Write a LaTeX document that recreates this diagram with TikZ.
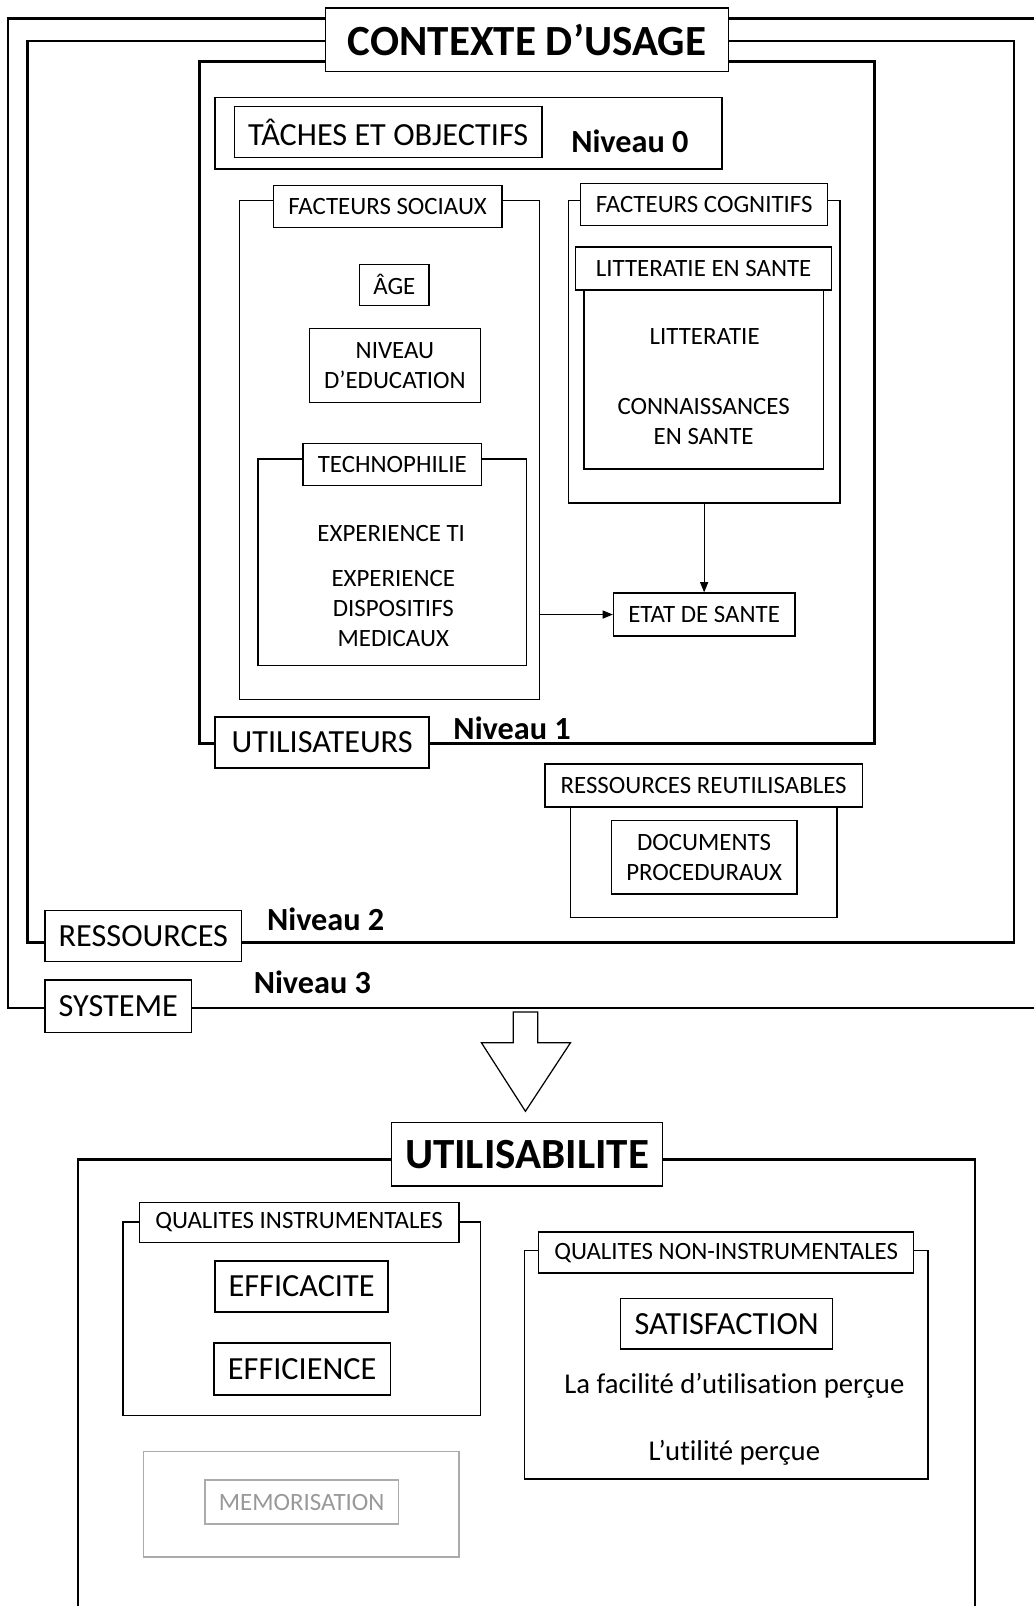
\documentclass[tikz,border=0pt]{standalone}
\usepackage{fontspec}
\setmainfont{Carlito}[Ligatures={NoCommon}]
\usetikzlibrary{arrows.meta}
\begin{document}
\begin{tikzpicture}[x=1pt,y=-1pt,
  frame/.style={draw, line width=2.4pt},
  bx/.style={draw, line width=1.4pt, fill=white, inner sep=0pt, align=center},
  cont/.style={draw, line width=1.4pt, inner sep=0pt},
  sz/.style 2 args={minimum width=#1pt, minimum height=#2pt},
  sm/.style={font=\fontsize{24.3}{29}\selectfont},
  md/.style={font=\fontsize{31.5}{36}\selectfont},
  big/.style={font=\fontsize{42}{48}\selectfont\bfseries},
  niv/.style={font=\fontsize{31.5}{36}\selectfont\bfseries, inner sep=0pt},
  txt/.style={align=center, inner sep=0pt},
  con/.style={draw, line width=0.9pt, -{Triangle[length=10pt,width=8pt]}},
  grey/.style={draw=black!33, text=black!40}
]
\useasboundingbox (0,0) rectangle (1009,1568);

% ---------------- CONTEXTE D'USAGE ----------------
\draw[frame] (8,18) rectangle (1020,984);   % Niveau 3
\draw[frame] (27,40) rectangle (990,920);   % Niveau 2
\draw[frame] (195,60) rectangle (854,726);  % Niveau 1

% Niveau 0
\node[bx, line width=1.2pt, sz={495}{70}] (n0) at (457.5,130) {};
\node[bx, md, sz={300}{50}] (taches) at (379,129) {TÂCHES ET OBJECTIFS};
\node[niv] (niv0) at (615,138) {Niveau 0};

% Facteurs sociaux
\node[cont, sz={293}{487}] (fs) at (380.5,439.5) {};
\node[bx, sm, sz={223}{41}] (fsl) at (378.5,201.5) {FACTEURS SOCIAUX};
\node[bx, sm, sz={68}{40}] (age) at (385,278) {ÂGE};
\node[bx, sm, sz={167}{72}] (educ) at (385.5,357) {NIVEAU\\D’EDUCATION};
\node[cont, sz={262}{202}] (tech) at (383,549) {};
\node[bx, sm, sz={174}{41}] (techl) at (383,453.5) {TECHNOPHILIE};
\node[txt, sm] (expti) at (382,521) {EXPERIENCE TI};
\node[txt, sm] (expdm) at (384,594) {EXPERIENCE\\DISPOSITIFS\\MEDICAUX};

% Facteurs cognitifs
\node[cont, sz={265}{295}] (fc) at (687.5,343.5) {};
\node[bx, sm, sz={241}{41}] (fcl) at (687.5,199.5) {FACTEURS COGNITIFS};
\node[cont, sz={234}{175}] (lit) at (687,370.5) {};
\node[bx, sm, sz={250}{42}] (litl) at (687,262) {LITTERATIE EN SANTE};
\node[txt, sm] (litt) at (688,329) {LITTERATIE};
\node[txt, sm] (conn) at (687,411.5) {CONNAISSANCES\\EN SANTE};

\node[bx, sm, sz={177}{42}] (etat) at (687.5,600) {ETAT DE SANTE};
\draw[con] (fc.south) -- (etat.north);
\draw[con] (fs.east |- etat.west) -- (etat.west);

\node[bx, md, sz={209}{50}] (util) at (314.5,725) {UTILISATEURS};
\node[niv] (niv1) at (500,711) {Niveau 1};

% Ressources
\node[cont, sz={260}{129}] (rr) at (687,831.5) {};
\node[bx, sm, sz={310}{42}] (rrl) at (687,767) {RESSOURCES REUTILISABLES};
\node[bx, sm, sz={181}{72}] (docs) at (687.5,837) {DOCUMENTS\\PROCEDURAUX};

\node[bx, md, sz={192}{50}] (res) at (140,914) {RESSOURCES};
\node[niv] (niv2) at (318,898) {Niveau 2};
\node[bx, md, sz={143}{51}] (sys) at (115.5,982.5) {SYSTEME};
\node[niv] (niv3) at (305,959) {Niveau 3};

\node[bx, big, sz={393}{62}] (ctx) at (514.5,39) {CONTEXTE D’USAGE};

% big hollow arrow
\draw[line width=1.2pt, fill=white] (501,988) -- (525,988) -- (525,1018) -- (557,1018)
  -- (513,1085) -- (470,1018) -- (501,1018) -- cycle;

% ---------------- UTILISABILITE ----------------
\draw[frame] (76,1610) -- (76,1132) -- (952,1132) -- (952,1610);
\node[bx, big, sz={265}{62}] (usab) at (514.5,1127) {UTILISABILITE};

\node[cont, sz={349}{189}] (qi) at (294.5,1287.5) {};
\node[bx, sm, sz={312}{39}] (qil) at (292,1193.5) {QUALITES INSTRUMENTALES};
\node[bx, md, sz={169}{50}] (effa) at (294.5,1256) {EFFICACITE};
\node[bx, md, sz={172}{51}] (effe) at (295,1336.5) {EFFICIENCE};

\node[cont, grey, sz={308}{103}] (memo) at (294,1468.5) {};
\node[bx, grey, sm, sz={189}{43}] (meml) at (294.5,1466.5) {MEMORISATION};

\node[cont, sz={394}{223}] (qni) at (709,1332.5) {};
\node[bx, sm, sz={366}{40}] (qnil) at (709,1223) {QUALITES NON-INSTRUMENTALES};
\node[bx, md, sz={207}{49}] (sat) at (709.5,1292.5) {SATISFACTION};
\node[txt, font=\fontsize{28}{32}\selectfont] (fac) at (717,1353) {La facilité d’utilisation perçue};
\node[txt, font=\fontsize{28}{32}\selectfont] (ut) at (717,1418) {L’utilité perçue};
\end{tikzpicture}
\end{document}
